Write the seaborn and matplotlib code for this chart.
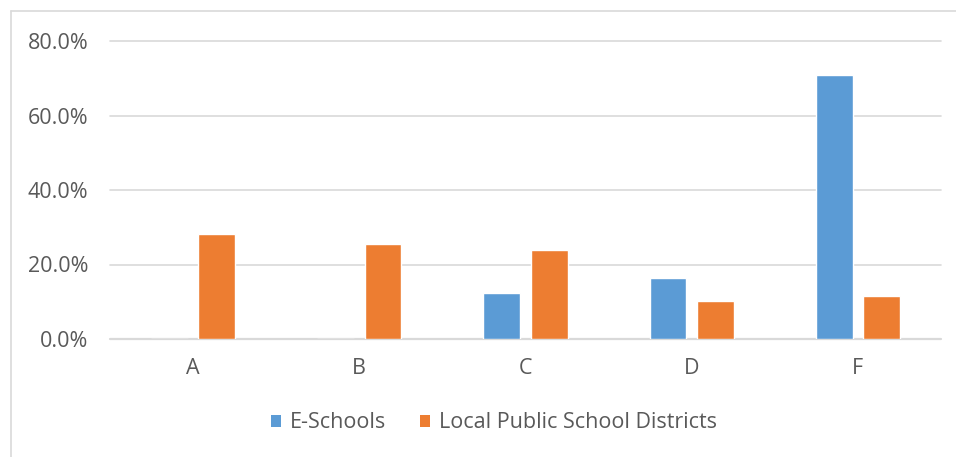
import matplotlib
matplotlib.use("Agg")
import matplotlib.pyplot as plt
from matplotlib.patches import Patch
from matplotlib.lines import Line2D
import seaborn as sns
import pandas as pd

# Share of schools by report-card grade
grades = ["A", "B", "C", "D", "F"]
e_schools = [0.0, 0.0, 12.3, 16.4, 71.0]
local_districts = [28.1, 25.4, 23.9, 10.1, 11.5]
series_names = ["E-Schools", "Local Public School Districts"]
y_ticks = [0, 20, 40, 60, 80]

df = pd.DataFrame({
    "grade": grades * 2,
    "share": e_schools + local_districts,
    "group": [series_names[0]] * len(grades) + [series_names[1]] * len(grades),
})

sns.set_theme(style="white")
plt.rcParams["font.family"] = ["Open Sans", "DejaVu Sans"]

text_color = "#595959"
grid_color = "#D9D9D9"
palette = {series_names[0]: "#5B9BD5", series_names[1]: "#ED7D31"}
font_size = 15.5

W, H = 956, 457
fig = plt.figure(figsize=(W / 100, H / 100), dpi=100)
ax = fig.add_axes([110 / W, (H - 339) / H, (941 - 110) / W, (339 - 41) / H])

sns.barplot(data=df, x="grade", y="share", hue="group", order=grades,
            hue_order=series_names, palette=palette, width=0.57, gap=0.22,
            saturation=1, ax=ax, legend=False)

ax.set_ylim(0, 80)
ax.set_xlim(-0.5, len(grades) - 0.5)
ax.set_yticks(y_ticks)
ax.set_yticklabels([f"{v:.1f}%" for v in y_ticks])
ax.set_xlabel("")
ax.set_ylabel("")
ax.tick_params(axis="both", length=0, labelsize=font_size, labelcolor=text_color)
ax.tick_params(axis="y", pad=15.5)
ax.tick_params(axis="x", pad=14)

for s in ax.spines.values():
    s.set_visible(False)
for v in y_ticks:
    ax.axhline(v, color=grid_color, lw=1.2 if v else 1.6, zorder=0, clip_on=False)

# Outer chart frame (left and top edges)
fig.add_artist(Line2D([10.5 / W, 10.5 / W], [0, (H - 11) / H], color=grid_color, lw=1.2))
fig.add_artist(Line2D([10.5 / W, 1], [(H - 11) / H, (H - 11) / H], color=grid_color, lw=1.2))

handles = [Patch(facecolor=palette[n], edgecolor="none") for n in series_names]
fig.legend(handles, series_names, loc="center", bbox_to_anchor=(494 / W, (H - 423) / H),
           ncol=2, frameon=False, fontsize=font_size, labelcolor=text_color,
           handlelength=0.47, handleheight=0.47, handletextpad=0.4, columnspacing=1.6)

fig.savefig("out.png", dpi=100)
